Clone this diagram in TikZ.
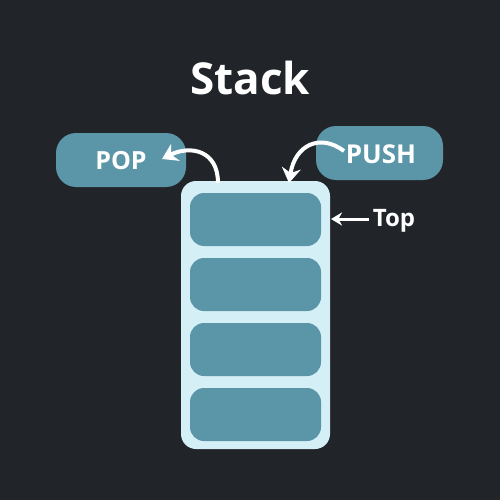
\documentclass[tikz,border=0pt]{standalone}
\usepackage{fontspec}
\setmainfont{Open Sans}
\usetikzlibrary{arrows.meta}
\definecolor{bg}{HTML}{212429}
\definecolor{teal}{HTML}{5B95A8}
\definecolor{pale}{HTML}{D5EFF7}
\tikzset{
  slot/.style={fill=teal, rounded corners=14pt},
  pill/.style={fill=teal, rounded corners=20pt},
  lbl/.style={text=white, font=\bfseries\fontsize{25}{30}\selectfont},
  warrow/.style={white, line width=4pt, -{Stealth[length=15pt,width=19pt]}},
}
\begin{document}
\begin{tikzpicture}[x=1pt,y=-1pt]
\fill[bg] (0,0) rectangle (500,500);
\useasboundingbox (0,0) rectangle (500,500);
\node[text=white, font=\bfseries\fontsize{44}{52}\selectfont] (title) at (250,78) {Stack};
% container
\fill[pale, rounded corners=15pt] (181,181) rectangle (330,449);
\coordinate (ctop) at (218,183);
\coordinate (cin) at (289,183);
\fill[slot] (190,193) rectangle (321,246);
\fill[slot] (190,258) rectangle (321,311);
\fill[slot] (190,323) rectangle (321,376);
\fill[slot] (190,388) rectangle (321,441);
\coordinate (slottop) at (331,219);
% POP and PUSH pills
\fill[pill] (56,133) rectangle (186,187);
\node[lbl] (pop) at (121,161) {POP};
\fill[pill] (316,126) rectangle (443,180);
\node[lbl, font=\bfseries\fontsize{26}{30}\selectfont] (push) at (381,154) {PUSH};
\node[lbl, font=\bfseries\fontsize{24}{28}\selectfont] (top) at (394,221) {Top};
% arrows
\draw[warrow] (ctop) .. controls (218,150) and (190,145) .. (162,159);
\draw[warrow] (344,151) .. controls (320,133) and (295,145) .. (cin);
\draw[white, line width=3pt, -{Stealth[length=11pt,width=13pt]}] (top.west |- slottop) -- (slottop);
\end{tikzpicture}
\end{document}
